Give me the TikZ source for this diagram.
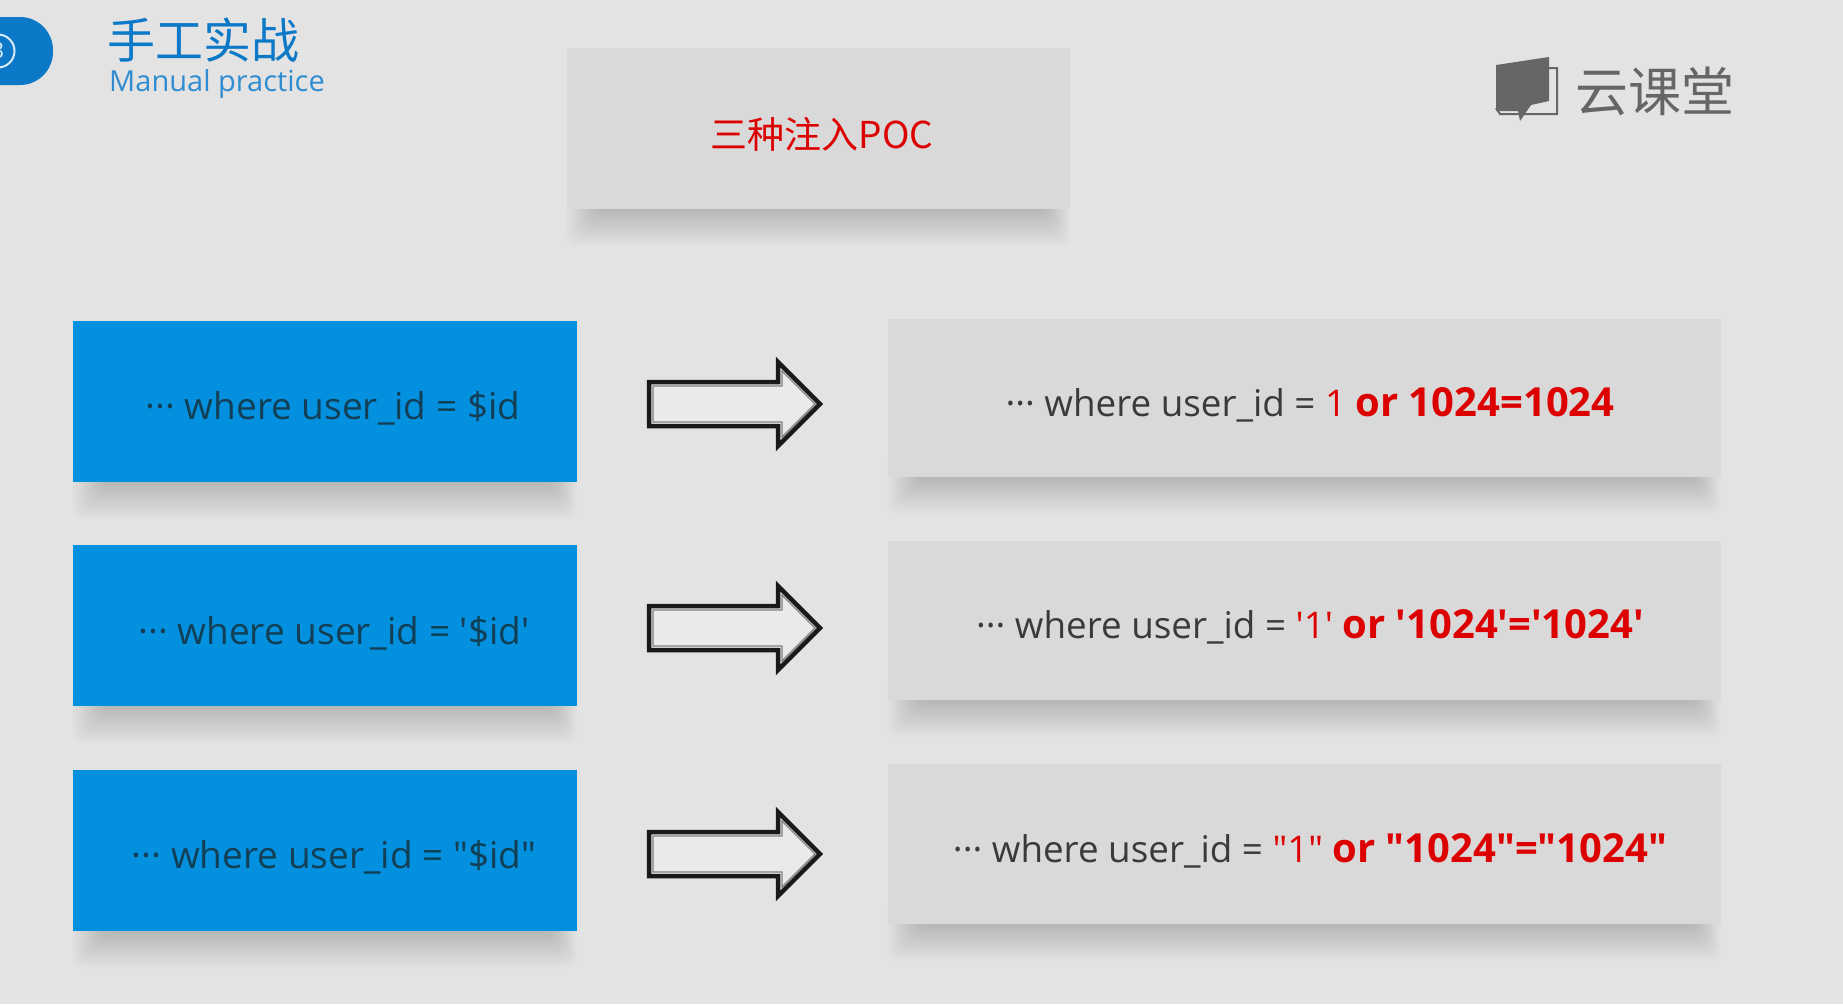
\documentclass[tikz,border=0pt]{standalone}
\usepackage{fontspec}
\newfontfamily\uifont{Open Sans}
\newfontfamily\cjkfont{Noto Sans CJK SC}
\definecolor{pagebg}{HTML}{E3E3E3}
\definecolor{greybox}{HTML}{D9D9D9}
\definecolor{bluebox}{HTML}{0391DF}
\definecolor{headblue}{HTML}{0B78C8}
\definecolor{darktext}{HTML}{3A3A3A}
\definecolor{bluetext}{HTML}{123F55}
\definecolor{redtext}{HTML}{DD0000}
\definecolor{logogrey}{HTML}{666666}
\newcommand{\softshadow}[3]{% left, right, bottom
  \foreach \i in {1,...,22}{
    \fill[black,opacity=0.0085,rounded corners=10pt]
      ({#1+32-1.5*\i},{#3-20}) rectangle ({#2-26+1.2*\i},{#3+1.7*\i});
  }}
\newcommand{\blockarrow}[2]{% name, centre y
  \begin{scope}[shift={(0,#2)}]
    \coordinate (#1) at (735,0);
    \draw[line width=4.5pt,black!90,fill=pagebg!75!white,miter limit=10]
      (649,-22) -- (778,-22) -- (778,-42) -- (820,0) -- (778,42) -- (778,22) -- (649,22) -- cycle;
    \draw[line width=1.4pt,black!50,miter limit=10]
      (653,-18) -- (782,-18) -- (782,-33) -- (815,0) -- (782,33) -- (782,18) -- (653,18) -- cycle;
  \end{scope}}
\tikzset{
  x=1pt,y=-1pt,
  blueb/.style={fill=bluebox},
  greyb/.style={fill=greybox},
  codeg/.style={font=\uifont\fontsize{36.8}{42}\selectfont,inner sep=0pt,anchor=center,text=darktext},
  codeb/.style={font=\uifont\fontsize{37}{42}\selectfont,inner sep=0pt,anchor=center,text=bluetext},
}
\newcommand{\hl}[1]{\textcolor{redtext}{#1}}
\newcommand{\hb}[1]{\textcolor{redtext}{\fontsize{40}{42}\selectfont\bfseries #1}}
\begin{document}
\begin{tikzpicture}
\useasboundingbox (0,0) rectangle (1843,1004);
\fill[pagebg] (0,0) rectangle (1843,1004);

% header tab
\begin{scope}
  \clip (0,0) rectangle (1843,1004);
  \fill[headblue,rounded corners=33pt] (-80,17) rectangle (53,85);
  \node[circle,draw=white!85!headblue,line width=2pt,minimum size=33pt,inner sep=0pt,font=\uifont\fontsize{22}{24}\selectfont,text=white!85!headblue] (tabnum) at (-2,51) {3};
\end{scope}
\node[font=\cjkfont\fontsize{48}{50}\selectfont,text=headblue,inner sep=0pt] (head) at (203,40) {手工实战};
\node[font=\uifont\fontsize{29}{30}\selectfont,text=headblue!85!white,inner sep=0pt] (sub) at (217,84) {Manual practice};

% logo
\fill[logogrey] (1496,65) -- (1549,57) -- (1549,101) -- (1531,105) -- (1520,121) -- (1518,111) -- (1496,111) -- cycle;
\draw[logogrey,line width=2pt] (1549,68) -- (1557,68) -- (1557,114) -- (1500,114) -- (1496,108);
\node[font=\cjkfont\fontsize{53}{55}\selectfont,text=logogrey,inner sep=0pt] (brand) at (1655,91) {云课堂};

% title box
\softshadow{567}{1070}{209}
\node[greyb,minimum width=503pt,minimum height=161pt,inner sep=0pt] (title) at (818.5,128.5) {};
\node[font=\cjkfont\fontsize{37}{39}\selectfont,text=redtext,inner sep=0pt] (titletext) at (822,134) {三种注入POC};

% shadows
\softshadow{73}{577}{482}
\softshadow{73}{577}{706}
\softshadow{73}{577}{931}
\softshadow{888}{1721}{477}
\softshadow{888}{1721}{700}
\softshadow{888}{1721}{924}

% blue boxes
\node[blueb,minimum width=504pt,minimum height=161pt,inner sep=0pt] (b1) at (325,401.5) {};
\node[blueb,minimum width=504pt,minimum height=161pt,inner sep=0pt] (b2) at (325,625.5) {};
\node[blueb,minimum width=504pt,minimum height=161pt,inner sep=0pt] (b3) at (325,850.5) {};
\node[codeb] (bt1) at (333,408) {··· where user\_id = \$id};
\node[codeb] (bt2) at (334,633) {··· where user\_id = '\$id'};
\node[codeb] (bt3) at (334,857) {··· where user\_id = "\$id"};

% grey boxes
\node[greyb,minimum width=833pt,minimum height=158pt,inner sep=0pt] (g1) at (1304.5,398) {};
\node[greyb,minimum width=833pt,minimum height=159pt,inner sep=0pt] (g2) at (1304.5,620.5) {};
\node[greyb,minimum width=833pt,minimum height=160pt,inner sep=0pt] (g3) at (1304.5,844) {};
\node[codeg] (gt1) at (1310,405) {··· where user\_id = \hl{1} \hb{or 1024=1024}};
\node[codeg] (gt2) at (1310,627) {··· where user\_id = \hl{'1'} \hb{or '1024'='1024'}};
\node[codeg] (gt3) at (1310,851) {··· where user\_id = \hl{"1"} \hb{or "1024"="1024"}};

% arrows
\blockarrow{a1}{404}
\blockarrow{a2}{628}
\blockarrow{a3}{854}
\end{tikzpicture}
\end{document}
